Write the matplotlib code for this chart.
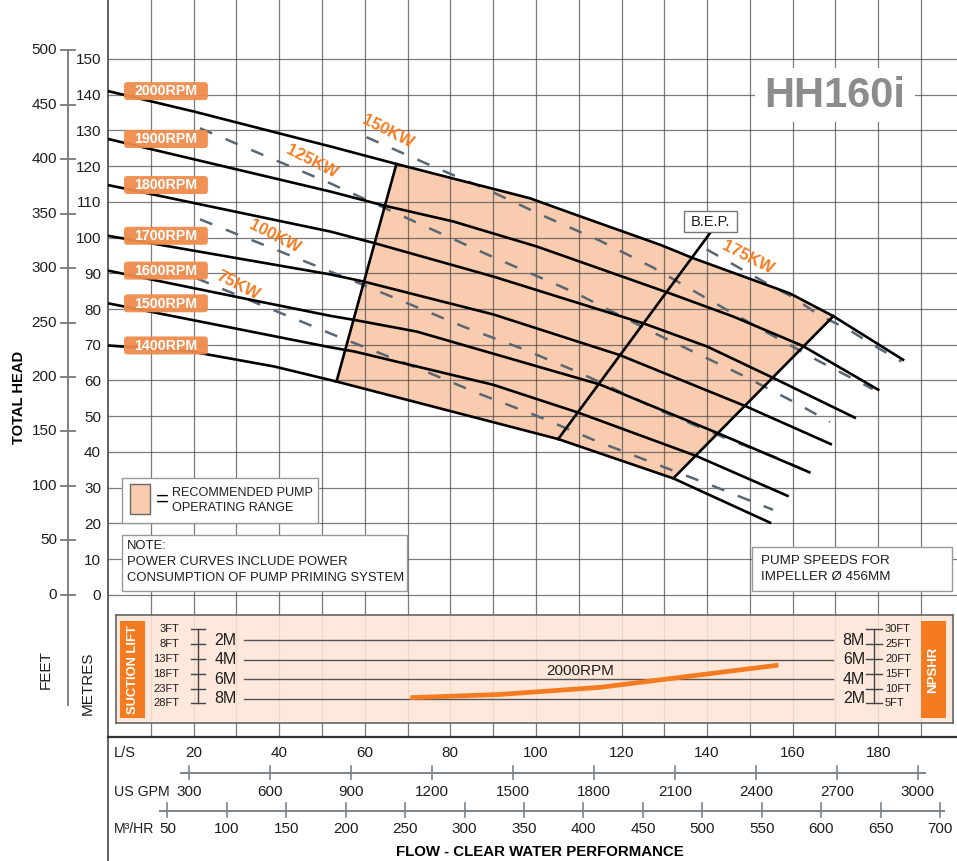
import matplotlib
matplotlib.use("Agg")
import matplotlib.pyplot as plt
import numpy as np
from matplotlib.patches import Rectangle, FancyBboxPatch, Polygon
from matplotlib.transforms import blended_transform_factory as blend

plt.rcParams["font.family"] = ["Liberation Sans", "DejaVu Sans"]
plt.rcParams["lines.scale_dashes"] = False

# pump head curves: flow (L/S) and total head (m)
rpm_labels = ["2000RPM", "1900RPM", "1800RPM", "1700RPM", "1600RPM", "1500RPM", "1400RPM"]
q_2000 = [0, 20, 52, 67.4, 98.6, 109.5, 129, 136.8, 159.3, 169.5, 185.8]
h_2000 = [141, 135.3, 125.5, 120.6, 111, 106.3, 98, 94.2, 84.4, 78, 65.8]
q_1900 = [0, 51.9, 64.7, 80.7, 100.2, 130.8, 146.1, 162.3, 180]
h_1900 = [127.6, 112.9, 108.9, 104.5, 97.5, 84.6, 77.9, 69.7, 57.4]
q_1800 = [0, 51.9, 62.4, 90, 125.1, 140, 155.3, 174.5]
h_1800 = [114.7, 101.7, 98.4, 89.1, 76, 69.5, 60.8, 49.6]
q_1700 = [0, 51.9, 59.7, 90, 119.6, 148.8, 168.9]
h_1700 = [100.5, 89.7, 87.7, 78.5, 67.1, 52.9, 42.2]
q_1600 = [0, 29.6, 51.9, 57.3, 72.1, 114.9, 142.6, 163.9]
h_1600 = [90.75, 83.5, 78.1, 77, 73.7, 58.9, 45.2, 34.3]
q_1500 = [0, 51.9, 57.6, 90, 109.9, 137.4, 158.8]
h_1500 = [81.6, 69.3, 68.1, 58.8, 51, 38.9, 27.7]
q_1400 = [0, 19.5, 38.9, 53.4, 105.2, 132.1, 154.7]
h_1400 = [69.8, 68.1, 63.9, 59.7, 43.6, 32.6, 20.2]
q_rpm = [q_2000, q_1900, q_1800, q_1700, q_1600, q_1500, q_1400]
h_rpm = [h_2000, h_1900, h_1800, h_1700, h_1600, h_1500, h_1400]

# power curves
kw_labels = ["75KW", "100KW", "125KW", "150KW", "175KW"]
q_75 = [20.7, 40.1, 53.3, 73.7, 86.9, 100.2, 113.8, 127, 140.9, 155.4]
h_75 = [88.6, 79, 72.5, 62.8, 56.2, 50.1, 43.2, 37.1, 30.7, 23.8]
q_100 = [21.5, 56.5, 70.2, 83.4, 97, 110.3, 129, 143.8, 157, 164]
h_100 = [105.1, 88.3, 81.5, 74.9, 68.8, 62.1, 51.6, 44.1, 38, 34.2]
q_125 = [21.5, 51.9, 69.4, 89.3, 109.1, 127.8, 148, 160.9, 168.7]
h_125 = [130.6, 115.2, 105.7, 94.9, 84.6, 73.2, 61.6, 53.6, 48.4]
q_150 = [60.4, 75.2, 88.5, 101.7, 115, 127.4, 140.3, 152.7, 166, 178.7]
h_150 = [128.1, 120.3, 113.5, 106.1, 99.1, 91.6, 82.7, 74.3, 65.5, 57.6]
q_175 = [139.9, 147.7, 153.9, 160.1, 166.4, 172.6, 178.7, 185.4]
h_175 = [96.7, 91.4, 87.2, 83.3, 78.1, 74.6, 70, 65.3]
q_kw = [q_75, q_100, q_125, q_150, q_175]
h_kw = [h_75, h_100, h_125, h_150, h_175]
kw_label_q = [30.4, 39, 47.7, 65.4, 149.5]
kw_label_h = [86.7, 100.2, 121.2, 129.8, 94.3]

# recommended range edges and best efficiency line
left_q, left_h = [53.4, 67.4], [59.7, 120.6]
right_q, right_h = [132.1, 169.5], [32.6, 78]
bep_q, bep_h = [105.2, 140.9], [43.6, 101.6]

# NPSHR at 2000 rpm (ft)
npshr_q = [70.6, 91.6, 115, 126.6, 138.3, 156.6]
npshr_ft = [6.9, 8.0, 10.4, 12.5, 14.6, 17.9]

# scales
head_m_ticks = list(range(0, 151, 10))
head_ft_ticks = list(range(0, 501, 50))
ls_ticks = list(range(20, 181, 20))
gpm_ticks = list(range(300, 3001, 300))
m3h_ticks = list(range(50, 701, 50))
suction_ft = [3, 8, 13, 18, 23, 28]
npshr_ft_ticks = [30, 25, 20, 15, 10, 5]
npshr_m = [8, 6, 4, 2]
suction_m_labels = ["2M", "4M", "6M", "8M"]

FT = 0.3048
GPM_PER_LS = 15.85
M3H_PER_LS = 3.6
M_TO_FT = 3.281

ORANGE = "#F47B20"
LABEL_ORANGE = "#F08B4C"
RANGE = "#F9CCAF"
TXT = "#1e1e1e"
FS = 11

fig = plt.figure(figsize=(9.57, 8.61), dpi=100)
# pixel space helper axes
pax = fig.add_axes([0, 0, 1, 1])
pax.set_xlim(0, 957)
pax.set_ylim(861, 0)
pax.axis("off")
px = pax.transData

ax = fig.add_axes([108 / 957, 124 / 861, 849 / 957, 737 / 861])
ax.set_xlim(0, 198.4)
ax.set_ylim(-39.8, 166.5)
ax.set_xticks(np.arange(10, 200, 10))
ax.set_yticks(head_m_ticks)
ax.set_yticklabels([str(v) for v in head_m_ticks], fontsize=FS, color=TXT)
ax.tick_params(length=0, pad=5, labelbottom=False)
ax.grid(True, color="#4a4a4a", lw=0.9, alpha=0.72)
ax.set_axisbelow(True)
for s in ["top", "right"]:
    ax.spines[s].set_visible(False)
ax.spines["left"].set_color("#555")
ax.spines["left"].set_linewidth(1.3)
ax.spines["bottom"].set_color("#333")
ax.spines["bottom"].set_linewidth(1.6)

# recommended operating range
top_q = [left_q[1]] + [q for q in q_2000 if left_q[1] < q < right_q[1]] + [right_q[1]]
bot_q = [right_q[0]] + [q for q in q_1400[::-1] if left_q[0] < q < right_q[0]] + [left_q[0]]
poly_q = np.r_[top_q, bot_q]
poly_h = np.r_[np.interp(top_q, q_2000, h_2000), np.interp(bot_q, q_1400, h_1400)]
ax.add_patch(Polygon(np.column_stack([poly_q, poly_h]), closed=True,
                     fc=RANGE, ec="none", zorder=0.3))

for q, h in zip(q_kw, h_kw):
    ax.plot(q, h, color="#5B6673", lw=1.8, dashes=(9.5, 10.5), zorder=2.5)

for q, h in zip(q_rpm, h_rpm):
    ax.plot(q, h, color="black", lw=1.9, zorder=3)
for q, h in [(left_q, left_h), (right_q, right_h), (bep_q, bep_h)]:
    ax.plot(q, h, color="black", lw=1.9, zorder=3)

# rpm tags
for lab, h in zip(rpm_labels, h_rpm):
    ax.add_patch(FancyBboxPatch((3.74, h[0] - 2.52), 19.6, 5.04,
                                boxstyle="round,pad=0,rounding_size=0.8",
                                mutation_aspect=1.2, fc=LABEL_ORANGE, ec="none",
                                alpha=0.95, zorder=4))
    ax.text(13.55, h[0] - 0.1, lab, color="white", fontsize=10.2, fontweight="bold",
            ha="center", va="center", zorder=5)

for lab, q, h in zip(kw_labels, kw_label_q, kw_label_h):
    ax.text(q, h, lab, color=ORANGE, fontsize=12, fontweight="bold", rotation=-27,
            ha="center", va="center", rotation_mode="anchor", zorder=5)

# B.E.P. tag
ax.add_patch(Rectangle((684, 211), 53, 21, transform=px, fc="white", ec="#777",
                       lw=1, zorder=6, clip_on=False))
ax.text(710.5, 222, "B.E.P.", transform=px, fontsize=10.5, color=TXT,
        ha="center", va="center", zorder=7)

# model name
ax.add_patch(Rectangle((755, 68), 160, 54, transform=px, fc="white", ec="none",
                       zorder=6, clip_on=False))
ax.text(835, 96, "HH160i", transform=px, fontsize=30, fontweight="bold",
        color="#8C8C8C", ha="center", va="center", zorder=7)

# legend box
ax.add_patch(Rectangle((122, 478), 196, 45, transform=px, fc="white", ec="#999",
                       lw=1, zorder=6, clip_on=False))
ax.add_patch(Rectangle((130, 484), 20, 30, transform=px, fc=RANGE, ec="#666",
                       lw=1, zorder=7, clip_on=False))
ax.text(162, 500, "=", transform=px, fontsize=16, ha="center", va="center", zorder=7)
ax.text(172, 493, "RECOMMENDED PUMP", transform=px, fontsize=9.1, color=TXT,
        ha="left", va="center", zorder=7)
ax.text(172, 508, "OPERATING RANGE", transform=px, fontsize=9.1, color=TXT,
        ha="left", va="center", zorder=7)

# note boxes
ax.add_patch(Rectangle((122, 535), 285, 56, transform=px, fc="white", ec="#999",
                       lw=1, zorder=6, clip_on=False))
for y, t in zip([546, 562, 578], ["NOTE:", "POWER CURVES INCLUDE POWER",
                                   "CONSUMPTION OF PUMP PRIMING SYSTEM"]):
    ax.text(127, y, t, transform=px, fontsize=9.4, color=TXT, ha="left",
            va="center", zorder=7)
ax.add_patch(Rectangle((752, 547), 200, 44, transform=px, fc="white", ec="#999",
                       lw=1, zorder=6, clip_on=False))
for y, t in zip([561, 577], ["PUMP SPEEDS FOR", "IMPELLER Ø 456MM"]):
    ax.text(761, y, t, transform=px, fontsize=9.6, color=TXT, ha="left",
            va="center", zorder=7)

# feet scale on the left
trF = blend(px, ax.transData)
pax.plot([68, 68], [head_ft_ticks[-1] * FT, -30.8], transform=trF, color="#777",
         lw=1.3, clip_on=False)
for ft in head_ft_ticks:
    pax.plot([61, 75], [ft * FT, ft * FT], transform=trF, color="#777", lw=1.3)
    pax.text(57, ft * FT, str(ft), transform=trF, fontsize=FS, color=TXT,
             ha="right", va="center")
pax.plot([108, 108], [737, 861], color="#555", lw=1.3)
pax.text(19, 397, "TOTAL HEAD", rotation=90, fontsize=10.6, fontweight="bold",
         ha="center", va="center")
pax.text(46, 670, "FEET", rotation=90, fontsize=11, color=TXT,
         ha="center", va="center")
pax.text(88, 683, "METRES", rotation=90, fontsize=11, color=TXT,
         ha="center", va="center")

# flow scales below
trX = blend(ax.transData, px)
pax.text(114, 753, "L/S", fontsize=10.5, color=TXT, ha="left", va="center")
for v in ls_ticks:
    pax.text(v, 753, str(v), transform=trX, fontsize=FS, color=TXT,
             ha="center", va="center")
g = np.array(gpm_ticks) / GPM_PER_LS
pax.plot([(gpm_ticks[0] - 28) / GPM_PER_LS, (gpm_ticks[-1] + 25) / GPM_PER_LS],
         [772.7, 772.7], transform=trX, color="#7d838b", lw=1.4)
pax.text(114, 792, "US GPM", fontsize=10.2, color=TXT, ha="left", va="center")
for v, q in zip(gpm_ticks, g):
    pax.plot([q, q], [766, 779], transform=trX, color="#7d838b", lw=1.2)
    pax.text(q, 792, str(v), transform=trX, fontsize=FS, color=TXT,
             ha="center", va="center")
m = np.array(m3h_ticks) / M3H_PER_LS
pax.plot([(m3h_ticks[0] - 6.5) / M3H_PER_LS, (m3h_ticks[-1] + 3) / M3H_PER_LS],
         [810.7, 810.7], transform=trX, color="#7d838b", lw=1.4)
pax.text(114, 829, "M³/HR", fontsize=10.2, color=TXT, ha="left", va="center")
for v, q in zip(m3h_ticks, m):
    pax.plot([q, q], [803, 817], transform=trX, color="#7d838b", lw=1.2)
    pax.text(q, 829, str(v), transform=trX, fontsize=FS, color=TXT,
             ha="center", va="center")
pax.text(540, 852, "FLOW - CLEAR WATER PERFORMANCE", fontsize=10.8,
         fontweight="bold", ha="center", va="center")

# suction lift / NPSHR panel
ax2 = fig.add_axes([116 / 957, (861 - 722.7) / 861, (953 - 116) / 957, (722.7 - 615) / 861])
ax2.set_xlim(1.87, 197.4)
ax2.set_ylim(-1.55, 34.83)
ax2.set_facecolor((0.992, 0.898, 0.839, 0.88))
ax2.set_xticks([])
ax2.set_yticks([])
for s in ax2.spines.values():
    s.set_color("#666")
    s.set_linewidth(1.2)
tr2 = blend(px, ax2.transData)
for mm in npshr_m:
    ax2.plot([244, 833], [mm * M_TO_FT] * 2, transform=tr2, color="#555", lw=1)
ax2.add_patch(Rectangle((120, 621), 25, 97, transform=px, fc=ORANGE, ec="none",
                        clip_on=False))
ax2.text(132.5, 669.5, "SUCTION LIFT", transform=px, rotation=90, color="white",
         fontsize=9.3, fontweight="bold", ha="center", va="center")
ax2.add_patch(Rectangle((921, 621), 25, 97, transform=px, fc=ORANGE, ec="none",
                        clip_on=False))
ax2.text(933.5, 669.5, "NPSHR", transform=px, rotation=90, color="white",
         fontsize=9.5, fontweight="bold", ha="center", va="center")

ax2.plot([198.3, 198.3], [npshr_ft_ticks[0], npshr_ft_ticks[-1]], transform=tr2,
         color="#444", lw=1)
ax2.plot([874, 874], [npshr_ft_ticks[0], npshr_ft_ticks[-1]], transform=tr2,
         color="#444", lw=1)
for s_ft, n_ft in zip(suction_ft, npshr_ft_ticks):
    ax2.plot([190.7, 205.3], [n_ft, n_ft], transform=tr2, color="#444", lw=1)
    ax2.text(179.3, n_ft, f"{s_ft}FT", transform=tr2, fontsize=8, color=TXT,
             ha="right", va="center")
    ax2.plot([866, 882], [n_ft, n_ft], transform=tr2, color="#444", lw=1)
    ax2.text(885, n_ft, f"{n_ft}FT", transform=tr2, fontsize=8, color=TXT,
             ha="left", va="center")
for mm, lab in zip(npshr_m, suction_m_labels):
    ax2.text(236.7, mm * M_TO_FT, lab, transform=tr2, fontsize=11.5, color=TXT,
             ha="right", va="center")
    ax2.text(865, mm * M_TO_FT, f"{mm}M", transform=tr2, fontsize=11.5,
             color=TXT, ha="right", va="center")

ax2.plot(npshr_q, npshr_ft, color=ORANGE, lw=3.4, solid_capstyle="butt")
ax2.text(110.3, 15.9, "2000RPM", fontsize=11, color=TXT, ha="center",
         va="center")

fig.savefig("out.png", dpi=100)
